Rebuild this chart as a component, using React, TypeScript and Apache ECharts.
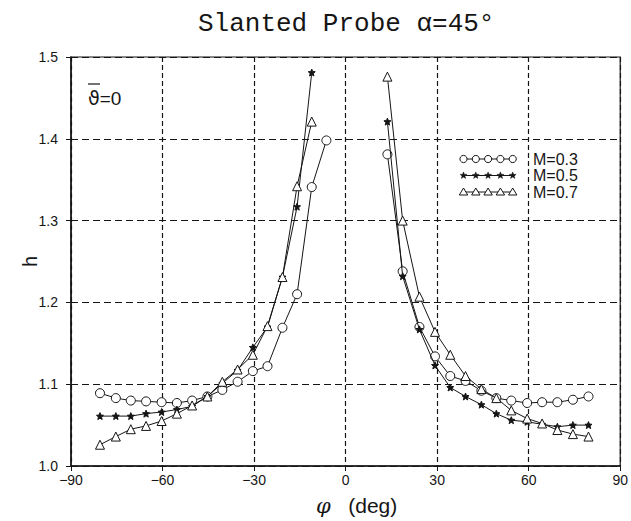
import React, { useEffect, useRef } from "react";
import * as echarts from "echarts";

// ---- data ----
const seriesNames = ["M=0.3", "M=0.5", "M=0.7"];

// left branch angles (deg)
const phiLeft = [-80.5, -75.3, -70.4, -65.4, -60.3, -55.3, -50.3, -45.3, -40.4, -35.4, -30.4, -25.6, -20.7, -15.9, -11.1, -6.3];
// right branch angles (deg)
const phiRight = [13.7, 18.7, 24.2, 29.3, 34.3, 39.3, 44.5, 49.4, 54.3, 59.5, 64.4, 69.4, 74.5, 79.6];

const hLeft03 = [1.089, 1.083, 1.080, 1.079, 1.078, 1.077, 1.080, 1.085, 1.093, 1.103, 1.116, 1.122, 1.169, 1.210, 1.341, 1.398];
const hLeft05 = [1.061, 1.061, 1.061, 1.064, 1.066, 1.069, 1.073, 1.085, 1.101, 1.117, 1.145, 1.170, 1.231, 1.317, 1.481];
const hLeft07 = [1.026, 1.036, 1.045, 1.049, 1.055, 1.064, 1.074, 1.085, 1.103, 1.118, 1.136, 1.171, 1.231, 1.342, 1.421];

const hRight03 = [1.381, 1.238, 1.170, 1.134, 1.110, 1.104, 1.092, 1.083, 1.080, 1.077, 1.078, 1.078, 1.081, 1.085];
const hRight05 = [1.421, 1.232, 1.167, 1.123, 1.096, 1.085, 1.075, 1.064, 1.056, 1.054, 1.051, 1.048, 1.050, 1.050];
const hRight07 = [1.476, 1.300, 1.207, 1.164, 1.136, 1.110, 1.094, 1.083, 1.068, 1.058, 1.052, 1.044, 1.039, 1.036];

const xMin = -90, xMax = 90, xStep = 30;
const yMin = 1.0, yMax = 1.5, yStep = 0.1;

const INK = "#151515";
const STAR_PATH =
  "path://M0,-10 L2.6,-3.6 9.5,-3.1 4.2,1.4 5.9,8.1 0,4.4 -5.9,8.1 -4.2,1.4 -9.5,-3.1 -2.6,-3.6 Z";

const markerStyles = [
  { symbol: "circle", size: 9, fill: "#ffffff" },
  { symbol: STAR_PATH, size: 7, fill: INK },
  { symbol: "triangle", size: 9, fill: "#ffffff" },
];

function pairs(xs: number[], ys: number[]) {
  return ys.map((y, i) => [xs[i], y]);
}

function makeSeries(idx: number, data: number[][]) {
  const m = markerStyles[idx];
  return {
    type: "line",
    name: seriesNames[idx],
    data,
    symbol: m.symbol,
    symbolSize: m.size,
    showAllSymbol: true,
    lineStyle: { color: INK, width: 1 },
    itemStyle: { color: m.fill, borderColor: INK, borderWidth: 1 },
    emphasis: { disabled: true },
    z: 3 + idx,
  };
}

function starPoints(cx: number, cy: number, r: number) {
  const pts: number[][] = [];
  for (let k = 0; k < 10; k++) {
    const rr = k % 2 === 0 ? r : r * 0.42;
    const a = -Math.PI / 2 + (k * Math.PI) / 5;
    pts.push([cx + rr * Math.cos(a), cy + rr * Math.sin(a)]);
  }
  return pts;
}

function legendGraphics() {
  const els: any[] = [];
  const x0 = 462, x1 = 515;
  const rows = [159, 175.5, 192];
  rows.forEach((y, i) => {
    els.push({
      type: "line",
      shape: { x1: x0, y1: y, x2: x1, y2: y },
      style: { stroke: INK, lineWidth: 1 },
      silent: true,
    });
    for (let k = 0; k < 5; k++) {
      const cx = x0 + 1.5 + k * 12.3;
      if (i === 0) {
        els.push({ type: "circle", shape: { cx, cy: y, r: 3.6 }, style: { fill: "#fff", stroke: INK, lineWidth: 1 }, silent: true });
      } else if (i === 1) {
        els.push({ type: "polygon", shape: { points: starPoints(cx, y, 3.6) }, style: { fill: INK, stroke: INK, lineWidth: 0.5 }, silent: true });
      } else {
        els.push({
          type: "polygon",
          shape: { points: [[cx, y - 4], [cx + 4.2, y + 3], [cx - 4.2, y + 3]] },
          style: { fill: "#fff", stroke: INK, lineWidth: 1 },
          silent: true,
        });
      }
    }
    els.push({
      type: "text",
      x: 533,
      y,
      style: { text: seriesNames[i], fill: INK, font: "16px 'Liberation Sans', Arial, sans-serif", verticalAlign: "middle", align: "left" },
      silent: true,
    });
  });
  return els;
}

export default function App() {
  const ref = useRef<HTMLDivElement>(null);
  useEffect(() => {
    if (!ref.current) return;
    const chart = echarts.init(ref.current, null, { renderer: "svg" });
    const option: any = {
      animation: false,
      backgroundColor: "#ffffff",
      title: {
        text: "Slanted Probe α=45°",
        left: 193,
        top: 6,
        textStyle: { fontFamily: "'Liberation Mono', 'DejaVu Sans Mono', monospace", fontSize: 26, fontWeight: "normal", color: INK },
      },
      grid: { left: 71, right: 9, top: 57, bottom: 55, show: true, borderColor: INK, borderWidth: 1.2, backgroundColor: "transparent" },
      xAxis: {
        type: "value",
        min: xMin,
        max: xMax,
        interval: xStep,
        axisLine: { show: true, onZero: false, lineStyle: { color: INK, width: 1.5 } },
        axisTick: { show: true, length: 5, lineStyle: { color: INK, width: 1 } },
        axisLabel: {
          color: INK,
          fontSize: 14,
          fontFamily: "'Liberation Sans', Arial, sans-serif",
          margin: 7,
          formatter: (v: number) => (v < 0 ? "\u2212" + Math.abs(v) : String(v)),
        },
        splitLine: { show: true, lineStyle: { color: INK, width: 1.2, type: [5, 3] } },
        name: "{g|φ}   (deg)",
        nameLocation: "middle",
        nameGap: 29,
        nameMoveOverlap: false,
        nameTextStyle: {
          color: INK,
          fontSize: 21,
          fontFamily: "'Liberation Sans', Arial, sans-serif",
          padding: [0, 0, 0, 22],
          rich: { g: { fontFamily: "'DejaVu Serif', serif", fontStyle: "italic", fontSize: 21, color: INK } },
        },
      },
      yAxis: {
        type: "value",
        min: yMin,
        max: yMax,
        interval: yStep,
        axisLine: { show: true, onZero: false, lineStyle: { color: INK, width: 1.5 } },
        axisTick: { show: true, length: 5, lineStyle: { color: INK, width: 1 } },
        axisLabel: {
          color: INK,
          fontSize: 14,
          fontFamily: "'Liberation Sans', Arial, sans-serif",
          margin: 13,
          formatter: (v: number) => v.toFixed(1),
        },
        splitLine: { show: true, lineStyle: { color: INK, width: 1.2, type: [7, 4] } },
        name: "h",
        nameLocation: "middle",
        nameGap: 31,
        nameMoveOverlap: false,
        nameTextStyle: { color: INK, fontSize: 20, fontFamily: "'Liberation Sans', Arial, sans-serif" },
      },
      series: [
        makeSeries(0, pairs(phiLeft, hLeft03)),
        makeSeries(0, pairs(phiRight, hRight03)),
        makeSeries(1, pairs(phiLeft, hLeft05)),
        makeSeries(1, pairs(phiRight, hRight05)),
        makeSeries(2, pairs(phiLeft, hLeft07)),
        makeSeries(2, pairs(phiRight, hRight07)),
      ],
      graphic: [
        {
          type: "text",
          x: 88,
          y: 98,
          style: {
            text: "{t|ϑ}{e|=0}",
            verticalAlign: "middle",
            rich: {
              t: { fontFamily: "'DejaVu Sans', sans-serif", fontSize: 19, fill: INK },
              e: { fontFamily: "'Liberation Sans', Arial, sans-serif", fontSize: 19, fill: INK },
            },
          },
          silent: true,
        },
        { type: "line", shape: { x1: 88, y1: 84, x2: 100, y2: 84 }, style: { stroke: INK, lineWidth: 1.2 }, silent: true },
        ...legendGraphics(),
      ],
    };
    chart.setOption(option);
    return () => chart.dispose();
  }, []);
  return <div ref={ref} style={{ position: "fixed", left: 0, top: 0, width: 631, height: 521 }} />;
}
